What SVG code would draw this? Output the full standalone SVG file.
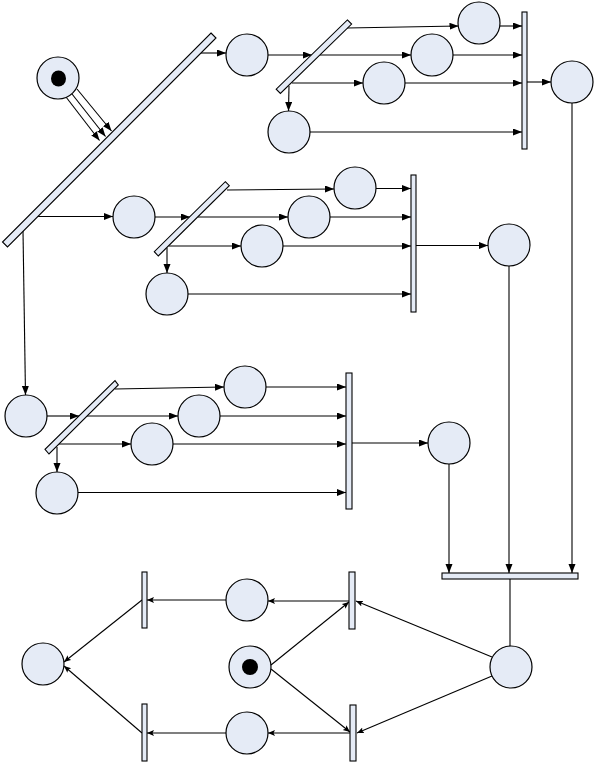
<svg xmlns="http://www.w3.org/2000/svg" width="595" height="762" viewBox="0 0 595 762">
<style>
.p{fill:#e5ebf6;stroke:#000;stroke-width:1.2}
.t{fill:#e5ebf6;stroke:#000;stroke-width:1.1}
.tok{fill:#000}
.c line{stroke:#000;stroke-width:1.1;fill:none}
.a{marker-end:url(#ah)}
.b{marker-end:url(#ah2)}
</style>
<defs>
<marker id="ah" markerUnits="userSpaceOnUse" markerWidth="10" markerHeight="8" refX="9" refY="3.5" orient="auto"><path d="M0,0 L9,3.5 L0,7 z" fill="#000"/></marker>
<marker id="ah2" markerUnits="userSpaceOnUse" markerWidth="8" markerHeight="7" refX="7" refY="3" orient="auto"><path d="M0,0 L7,3 L0,6 L1.5,3 z" fill="#000"/></marker>
</defs>
<rect width="595" height="762" fill="#fff"/>
<g id="connectors" class="c">
<line class="a" x1="66" y1="97" x2="99.5" y2="140.5"/>
<line class="a" x1="72" y1="94" x2="105.5" y2="136.5"/>
<line class="a" x1="77" y1="89" x2="111.5" y2="131"/>
<line class="a" x1="200" y1="53" x2="226" y2="53"/>
<line class="a" x1="37" y1="216.5" x2="113" y2="216.5"/>
<line class="a" x1="23" y1="231" x2="25.5" y2="395"/>
<line class="a" x1="268" y1="55" x2="312" y2="55"/>
<line class="a" x1="320" y1="55" x2="411" y2="55"/>
<line class="a" x1="347" y1="28" x2="458.5" y2="26"/>
<line class="a" x1="292" y1="83" x2="363" y2="83"/>
<line class="a" x1="289" y1="86" x2="288.5" y2="111"/>
<line class="a" x1="500" y1="26" x2="522" y2="26"/>
<line class="a" x1="453" y1="55" x2="522" y2="55"/>
<line class="a" x1="405" y1="83" x2="522" y2="83"/>
<line class="a" x1="310" y1="132" x2="522" y2="132"/>
<line class="a" x1="527" y1="82" x2="551" y2="82"/>
<line class="a" x1="572" y1="103" x2="572" y2="573"/>
<line class="a" x1="155" y1="217" x2="190" y2="217"/>
<line class="a" x1="198" y1="217" x2="288" y2="217"/>
<line class="a" x1="227" y1="190" x2="334" y2="189"/>
<line class="a" x1="169" y1="246" x2="241" y2="246"/>
<line class="a" x1="167" y1="248" x2="167" y2="273"/>
<line class="a" x1="376" y1="188.5" x2="411" y2="188.5"/>
<line class="a" x1="330" y1="217" x2="411" y2="217"/>
<line class="a" x1="283" y1="246" x2="411" y2="246"/>
<line class="a" x1="188" y1="294" x2="411" y2="294"/>
<line class="a" x1="416" y1="245.5" x2="488" y2="245.5"/>
<line class="a" x1="509" y1="266" x2="509" y2="573"/>
<line class="a" x1="47" y1="416" x2="79" y2="416"/>
<line class="a" x1="87" y1="416" x2="178" y2="416"/>
<line class="a" x1="115" y1="389" x2="224" y2="387"/>
<line class="a" x1="59" y1="444" x2="131" y2="444"/>
<line class="a" x1="57" y1="447" x2="57" y2="472"/>
<line class="a" x1="266" y1="387" x2="346" y2="387"/>
<line class="a" x1="220" y1="416" x2="346" y2="416"/>
<line class="a" x1="173" y1="444" x2="346" y2="444"/>
<line class="a" x1="78" y1="492.5" x2="346" y2="492.5"/>
<line class="a" x1="352" y1="443" x2="428" y2="443"/>
<line class="a" x1="449" y1="464" x2="449" y2="573"/>
<line x1="510" y1="579" x2="510" y2="646"/>
<line class="b" x1="492" y1="657" x2="356" y2="601"/>
<line class="b" x1="492" y1="676" x2="357" y2="733"/>
<line class="b" x1="271" y1="665" x2="349" y2="602"/>
<line class="b" x1="271" y1="669" x2="350" y2="732"/>
<line class="b" x1="349" y1="601" x2="268" y2="601"/>
<line class="b" x1="350" y1="733" x2="268" y2="733"/>
<line class="b" x1="226" y1="600" x2="147" y2="600"/>
<line class="b" x1="226" y1="733" x2="147" y2="733"/>
<line class="b" x1="142" y1="600" x2="64" y2="662"/>
<line class="b" x1="142" y1="733" x2="64" y2="666"/>
</g>
<g id="bar1"><polygon class="t" points="211,33 216,38 7.5,247 2.5,242"/></g>
<g id="bar2"><polygon class="t" points="347.4,19.9 351.6,24.1 280.4,93.4 276.2,89.2"/></g>
<g id="bar3"><polygon class="t" points="225.3,181.7 229.3,185.7 158.3,256 154.3,251.7"/></g>
<g id="bar4"><polygon class="t" points="115,380.7 118.3,385 49,454 45,449.3"/></g>
<g id="join1"><rect class="t" x="522" y="12" width="5" height="137"/></g>
<g id="join2"><rect class="t" x="411" y="175" width="5" height="137"/></g>
<g id="join3"><rect class="t" x="346" y="373" width="6" height="136"/></g>
<g id="join4"><rect class="t" x="442" y="573" width="136" height="6"/></g>
<g id="t1"><rect class="t" x="349" y="572" width="6" height="57"/></g>
<g id="t2"><rect class="t" x="350" y="705" width="6" height="56"/></g>
<g id="t3"><rect class="t" x="142" y="572" width="5" height="56"/></g>
<g id="t4"><rect class="t" x="142" y="704" width="5" height="57"/></g>
<g id="s1"><circle class="p" cx="58" cy="78" r="21"/><ellipse class="tok" cx="58.5" cy="78.5" rx="7.5" ry="8"/></g>
<g id="p1"><circle class="p" cx="247" cy="55" r="21"/></g>
<g id="pa"><circle class="p" cx="479" cy="23" r="21"/></g>
<g id="pb"><circle class="p" cx="432" cy="55" r="21"/></g>
<g id="pc"><circle class="p" cx="384" cy="83" r="21"/></g>
<g id="pd"><circle class="p" cx="289" cy="132" r="21"/></g>
<g id="pe"><circle class="p" cx="572" cy="82" r="21"/></g>
<g id="p2"><circle class="p" cx="134" cy="217" r="21"/></g>
<g id="pf"><circle class="p" cx="355" cy="188" r="21"/></g>
<g id="pg"><circle class="p" cx="309" cy="217" r="21"/></g>
<g id="ph"><circle class="p" cx="262" cy="246" r="21"/></g>
<g id="pi"><circle class="p" cx="167" cy="294" r="21"/></g>
<g id="pj"><circle class="p" cx="509" cy="245" r="21"/></g>
<g id="pk"><circle class="p" cx="26" cy="416" r="21"/></g>
<g id="pl"><circle class="p" cx="245" cy="387" r="21"/></g>
<g id="pm"><circle class="p" cx="199" cy="416" r="21"/></g>
<g id="pn"><circle class="p" cx="152" cy="444" r="21"/></g>
<g id="po"><circle class="p" cx="57" cy="493" r="21"/></g>
<g id="pq"><circle class="p" cx="449" cy="443" r="21"/></g>
<g id="pr"><circle class="p" cx="511" cy="667" r="21"/></g>
<g id="s2"><circle class="p" cx="250" cy="667" r="21"/><circle class="tok" cx="250" cy="667" r="8"/></g>
<g id="pu"><circle class="p" cx="247" cy="600" r="21"/></g>
<g id="pv"><circle class="p" cx="43" cy="664" r="21"/></g>
<g id="pw"><circle class="p" cx="247" cy="733" r="21"/></g>
</svg>
